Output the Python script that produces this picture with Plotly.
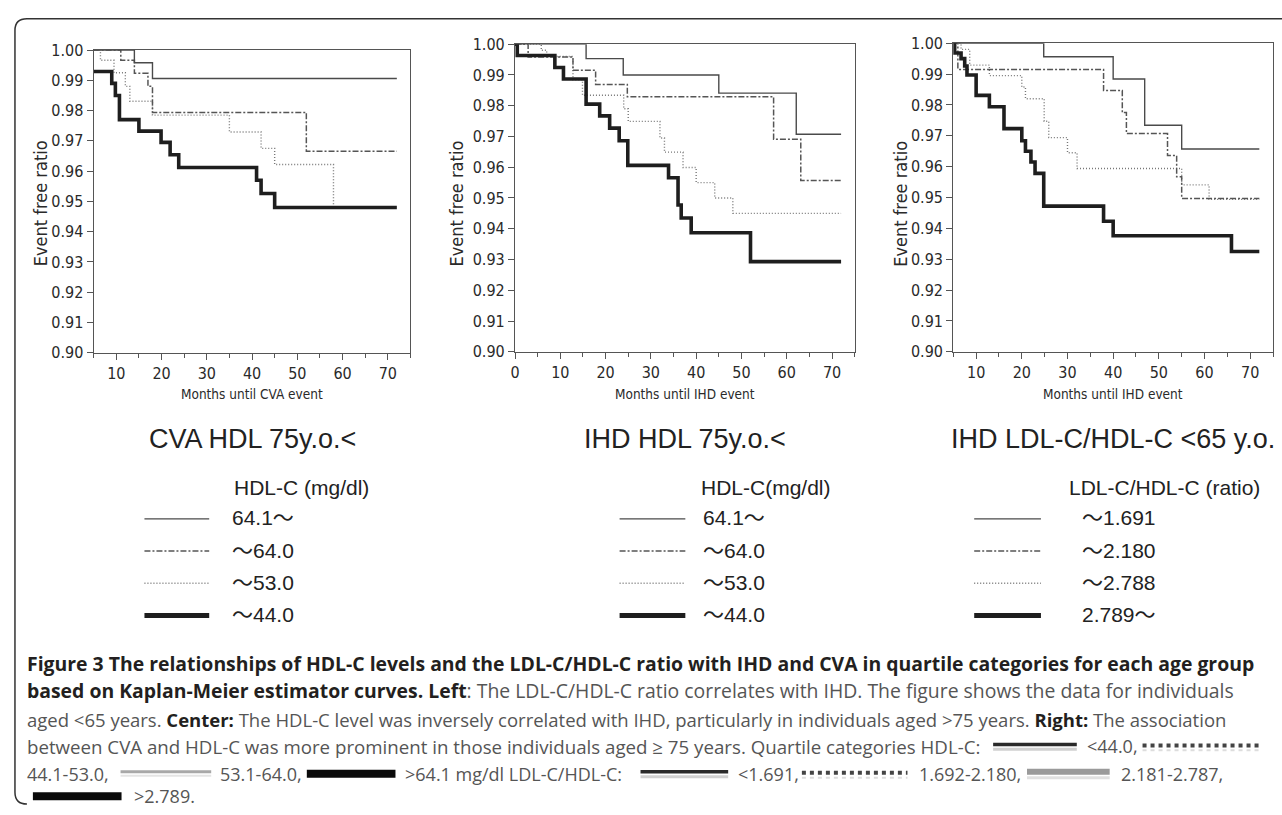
import plotly.graph_objects as go

W, H = 1282, 815

def px(x):
    return x / W

def py(y):
    return 1 - y / H

# ---------------- DATA ----------------
# Panel 1: CVA HDL 75y.o.<   (months, event free ratio)
p1_hi_t = [5, 14, 18, 72]
p1_hi_s = [1.0, 0.9958, 0.9906, 0.9906]
p1_q3_t = [5, 11, 14, 17, 18, 52, 72]
p1_q3_s = [1.0, 0.9966, 0.9923, 0.988, 0.9794, 0.9666, 0.9666]
p1_q2_t = [5, 6.5, 9.5, 12, 13, 18, 35, 42, 45, 58, 72]
p1_q2_s = [1.0, 0.9966, 0.9925, 0.988, 0.9831, 0.9785, 0.9729, 0.9675, 0.9622, 0.948, 0.948]
p1_lo_t = [5, 9, 9.8, 10.7, 15, 19.9, 21.9, 23.8, 41, 42, 45, 72]
p1_lo_s = [0.9929, 0.989, 0.985, 0.977, 0.9732, 0.9695, 0.9654, 0.9612, 0.957, 0.9526, 0.948, 0.948]

# Panel 2: IHD HDL 75y.o.<
p2_hi_t = [0, 15.7, 23.9, 45, 62.1, 72]
p2_hi_s = [1.0, 0.9953, 0.990, 0.9841, 0.9707, 0.9707]
p2_q3_t = [0, 2.9, 12.8, 17.8, 24.8, 57.1, 63.1, 72]
p2_q3_s = [1.0, 0.9958, 0.9915, 0.9869, 0.9829, 0.9691, 0.9557, 0.9557]
p2_q2_t = [0, 5.8, 7, 12.8, 14.9, 24, 25, 32, 33, 37.1, 40, 44.1, 48.1, 72]
p2_q2_s = [1.0, 0.998, 0.996, 0.9884, 0.9834, 0.979, 0.9749, 0.9695, 0.9649, 0.9599, 0.955, 0.95, 0.945, 0.945]
p2_lo_t = [0, 0.5, 8.8, 10.7, 15.7, 18.7, 20.9, 23, 24.9, 33.9, 36, 36.7, 38.9, 52, 72]
p2_lo_s = [1.0, 0.9963, 0.9924, 0.9887, 0.9805, 0.9767, 0.9727, 0.9686, 0.9606, 0.9566, 0.9477, 0.9435, 0.9387, 0.9293, 0.9293]

# Panel 3: IHD LDL-C/HDL-C <65 y.o.
p3_lo_t = [5, 24.8, 40, 46.9, 55, 72]
p3_lo_s = [1.0, 0.9956, 0.9884, 0.9734, 0.9657, 0.9657]
p3_q2_t = [5, 6, 37.9, 42, 42.9, 51.9, 53.9, 55, 72]
p3_q2_s = [1.0, 0.9915, 0.9847, 0.9775, 0.9707, 0.9636, 0.9567, 0.9497, 0.9497]
p3_q3_t = [5, 6.7, 8.6, 12.9, 20, 20.8, 24.9, 25.9, 30, 32.1, 55, 61, 72]
p3_q3_s = [1.0, 0.998, 0.9929, 0.9895, 0.9858, 0.982, 0.9747, 0.9694, 0.9645, 0.9594, 0.9541, 0.9494, 0.9494]
p3_hi_t = [5, 5.3, 6.7, 7.5, 8, 10, 12.9, 16.1, 20, 20.8, 22, 22.9, 24.8, 37.9, 40, 65.9, 72]
p3_hi_s = [1.0, 0.9968, 0.995, 0.9926, 0.9897, 0.9831, 0.9794, 0.9723, 0.9684, 0.965, 0.9615, 0.9578, 0.9472, 0.9423, 0.9376, 0.9325, 0.9325]

y_ticks = [0.90, 0.91, 0.92, 0.93, 0.94, 0.95, 0.96, 0.97, 0.98, 0.99, 1.00]
x_ticks_a = [10, 20, 30, 40, 50, 60, 70]
x_ticks_b = [0, 10, 20, 30, 40, 50, 60, 70]

panel_titles = ["CVA HDL 75y.o.<", "IHD HDL 75y.o.<", "IHD LDL-C/HDL-C <65 y.o."]
x_titles = ["Months until CVA event", "Months until IHD event", "Months until IHD event"]
legend_heads = ["HDL-C (mg/dl)", "HDL-C(mg/dl)", "LDL-C/HDL-C (ratio)"]
legend_labels = [
    ["64.1～", "～64.0", "～53.0", "～44.0"],
    ["64.1～", "～64.0", "～53.0", "～44.0"],
    ["～1.691", "～2.180", "～2.788", "2.789～"],
]

# ---------------- STYLES ----------------
ST_SOLID = dict(color="#4a4a4a", width=1.4, dash="solid")
ST_DDOT = dict(color="#555555", width=1.5, dash="6px,2px,2px,2px")
ST_DOT = dict(color="#777777", width=1.4, dash="1px,2px")
ST_THICK = dict(color="#1e1e1e", width=3.6, dash="solid")

TF = "Liberation Sans Narrow, DejaVu Sans Condensed, sans-serif"
SF = "Liberation Sans, Arial, Noto Sans CJK JP, sans-serif"
CF = "Open Sans, Noto Sans, sans-serif"

fig = go.Figure()

panels = [
    ("x", "y", [(p1_q2_t, p1_q2_s, ST_DOT), (p1_q3_t, p1_q3_s, ST_DDOT), (p1_hi_t, p1_hi_s, ST_SOLID), (p1_lo_t, p1_lo_s, ST_THICK)]),
    ("x2", "y2", [(p2_q2_t, p2_q2_s, ST_DOT), (p2_q3_t, p2_q3_s, ST_DDOT), (p2_hi_t, p2_hi_s, ST_SOLID), (p2_lo_t, p2_lo_s, ST_THICK)]),
    ("x3", "y3", [(p3_q3_t, p3_q3_s, ST_DOT), (p3_q2_t, p3_q2_s, ST_DDOT), (p3_lo_t, p3_lo_s, ST_SOLID), (p3_hi_t, p3_hi_s, ST_THICK)]),
]
for xa, ya, series in panels:
    for t, s, st in series:
        fig.add_trace(go.Scatter(x=t, y=s, mode="lines", xaxis=xa, yaxis=ya,
                                 line=dict(shape="hv", **st), hoverinfo="skip",
                                 showlegend=False))

# plot-area boxes in pixels: (left, right, top, bottom)
boxes = [(89, 407, 42, 352), (512, 853, 36, 351), (952, 1273, 35, 351)]
xranges = [[5, 75], [0, 75], [5, 75]]
xticks = [x_ticks_a, x_ticks_b, x_ticks_a]

axcommon = dict(showline=True, linecolor="#555", linewidth=1.2, mirror=True,
                ticks="outside", ticklen=6, tickcolor="#555", tickwidth=1,
                showgrid=False, zeroline=False, fixedrange=True,
                tickfont=dict(family=TF, size=16, color="#2a2a2a"))
layout_axes = {}
for i, (l, r, t, b) in enumerate(boxes):
    sfx = "" if i == 0 else str(i + 1)
    layout_axes["xaxis" + sfx] = dict(
        axcommon, domain=[px(l), px(r)], range=xranges[i], tickvals=xticks[i],
        anchor="y" + sfx,
        minor=dict(dtick=5, tick0=0, ticks="outside", ticklen=4, tickcolor="#555"))
    layout_axes["yaxis" + sfx] = dict(
        axcommon, domain=[py(b), py(t)], range=[0.9, 1.0], tickvals=y_ticks,
        tickformat=".2f", anchor="x" + sfx)

annotations = []
shapes = []

def ann(x, y, text, font, xanchor="center", angle=0):
    annotations.append(dict(x=px(x), y=py(y), xref="paper", yref="paper",
                            xanchor=xanchor, yanchor="middle", text=text,
                            textangle=angle, showarrow=False, font=font))

y_title_x = [36, 453, 899]
for i, (l, r, t, b) in enumerate(boxes):
    ann((l + r) / 2, 394, x_titles[i], dict(family=TF, size=13.5, color="#2a2a2a"))
    ann(y_title_x[i], 199, "Event free ratio", dict(family=TF, size=18, color="#2a2a2a"), angle=-90)
    ann((l + r) / 2, 440, panel_titles[i].replace("<", "&lt;"),
        dict(family=SF, size=27, color="#222"))

# Legends
leg_head_x = [228, 697, 1066]
leg_line_x = [(140, 205), (617, 683), (973, 1040)]
leg_text_x = [226, 699, 1079]
leg_rows_y = [521, 554, 587, 620]
leg_styles = [ST_SOLID, ST_DDOT, ST_DOT, ST_THICK]
for i in range(3):
    ann(leg_head_x[i], 490, legend_heads[i], dict(family=SF, size=21, color="#222"), xanchor="left")
    for j in range(4):
        st = leg_styles[j]
        x0, x1 = leg_line_x[i]
        w = 5 if j == 3 else st["width"]
        shapes.append(dict(type="line", xref="paper", yref="paper",
                           x0=px(x0), x1=px(x1), y0=py(leg_rows_y[j] + 1), y1=py(leg_rows_y[j] + 1),
                           line=dict(color=st["color"], width=w, dash=st["dash"])))
        ann(leg_text_x[i], leg_rows_y[j], legend_labels[i][j],
            dict(family=SF, size=21, color="#222"), xanchor="left")

# Caption
BOLD_C = "#231f20"
REG_C = "#555555"

def cap(x, y, text, size=18.5):
    ann(x, y, text, dict(family=CF, size=size, color=REG_C), xanchor="left")

def b(t):
    return '<b><span style="color:%s">%s</span></b>' % (BOLD_C, t)

cap(20, 670, b("Figure 3 The relationships of HDL-C levels and the LDL-C/HDL-C ratio with IHD and CVA in quartile categories for each age group"), 19.4)
cap(20, 698, b("based on Kaplan-Meier estimator curves. Left") + ": The LDL-C/HDL-C ratio correlates with IHD. The figure shows the data for individuals", 19.4)
cap(20, 727, "aged &lt;65 years. " + b("Center:") + " The HDL-C level was inversely correlated with IHD, particularly in individuals aged &gt;75 years. " + b("Right:") + " The association")
cap(20, 755, "between CVA and HDL-C was more prominent in those individuals aged ≥ 75 years. Quartile categories HDL-C:", 18.7)
cap(1084, 755, "&lt;44.0,", 18)
cap(20, 783, "44.1-53.0,", 18)
cap(214, 783, "53.1-64.0,", 18)
cap(400, 783, "&gt;64.1 mg/dl LDL-C/HDL-C:", 18)
cap(734, 783, "&lt;1.691,", 18)
cap(916, 783, "1.692-2.180,", 18)
cap(1118, 783, "2.181-2.787,", 18)
cap(127, 806, "&gt;2.789.", 18)

def bar(x0, x1, y, color, width, dash="solid"):
    shapes.append(dict(type="line", xref="paper", yref="paper", x0=px(x0), x1=px(x1),
                       y0=py(y), y1=py(y), line=dict(color=color, width=width, dash=dash)))

# inline line-style samples in the caption
bar(992, 1076, 753, "#2a2a2a", 3.5); bar(992, 1076, 758, "#d0d0d0", 3)
bar(1142, 1262, 754, "#444444", 4, "4px,4px"); bar(1142, 1262, 759, "#dddddd", 2, "4px,4px")
bar(116, 207, 781, "#a8a8a8", 3); bar(116, 207, 785, "#e4e4e4", 2)
bar(303, 392, 783, "#0a0a0a", 8)
bar(638, 726, 781, "#2a2a2a", 3.5); bar(638, 726, 786, "#d0d0d0", 3)
bar(800, 906, 782, "#444444", 4, "4px,4px"); bar(800, 906, 787, "#dddddd", 2, "4px,4px")
bar(1026, 1109, 781, "#9a9a9a", 6); bar(1026, 1109, 787, "#e0e0e0", 3)
bar(28, 117, 806, "#0a0a0a", 8)

# rounded outer border (top and left)
path = "M %f,%f Q %f,%f %f,%f L %f,%f Q %f,%f %f,%f L %f,%f" % (
    px(22), py(814), px(10), py(814), px(10), py(802),
    px(10), py(22), px(10), py(10), px(22), py(10),
    px(1282), py(10))
shapes.append(dict(type="path", xref="paper", yref="paper", path=path,
                   line=dict(color="#333", width=1.5)))

fig.update_layout(width=W, height=H, margin=dict(l=0, r=0, t=0, b=0),
                  paper_bgcolor="white", plot_bgcolor="white",
                  showlegend=False, annotations=annotations, shapes=shapes,
                  **layout_axes)

fig.write_html("out.html", config={"displayModeBar": False},
               post_script="document.body.style.margin='0';"
                           "document.body.style.overflow='hidden';"
                           "document.documentElement.style.overflow='hidden';")
